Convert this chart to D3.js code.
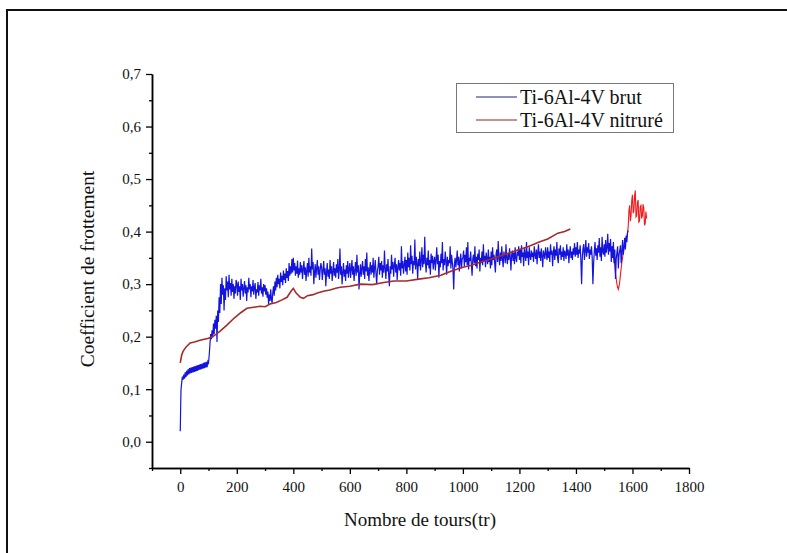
<!DOCTYPE html>
<html>
<head>
<meta charset="utf-8">
<script src="https://cdn.jsdelivr.net/npm/d3@7"></script>
<style>
  body { margin: 0; background: #fff; }
</style>
</head>
<body>
<div id="chart"></div>
<script>
const width = 787;
const height = 553;

// axis ticks
const xMajor = [0, 200, 400, 600, 800, 1000, 1200, 1400, 1600, 1800];
const xMinor = [-100, 100, 300, 500, 700, 900, 1100, 1300, 1500, 1700];
const yMajor = [0, 0.1, 0.2, 0.3, 0.4, 0.5, 0.6, 0.7];
const yMinor = [-0.05, 0.05, 0.15, 0.25, 0.35, 0.45, 0.55, 0.65];

// Ti-6Al-4V brut, one reading every 2.5 turns from 0 to 1585
const brutStep = 2.5;
const brutValues = [
  0.020, 0.098, 0.112, 0.124, 0.118, 0.128, 0.120, 0.132, 0.123, 0.135, 0.126, 0.138, 0.128, 0.140, 0.130, 0.141, 0.131, 0.142, 0.132, 0.143,
  0.133, 0.144, 0.134, 0.145, 0.135, 0.146, 0.136, 0.147, 0.137, 0.148, 0.138, 0.149, 0.139, 0.150, 0.140, 0.151, 0.141, 0.152, 0.142, 0.153,
  0.150, 0.165, 0.185, 0.205, 0.195, 0.212, 0.198, 0.225, 0.205, 0.232, 0.215, 0.240, 0.190, 0.250, 0.228, 0.275, 0.245, 0.300, 0.262, 0.312,
  0.280, 0.298, 0.250, 0.292, 0.270, 0.315, 0.288, 0.305, 0.275, 0.318, 0.290, 0.302, 0.278, 0.310, 0.285, 0.300, 0.272, 0.296, 0.282, 0.308,
  0.300, 0.278, 0.305, 0.285, 0.296, 0.270, 0.310, 0.288, 0.300, 0.276, 0.292, 0.306, 0.282, 0.298, 0.268, 0.294, 0.284, 0.312, 0.290, 0.300,
  0.275, 0.296, 0.286, 0.308, 0.280, 0.294, 0.302, 0.272, 0.290, 0.284, 0.304, 0.278, 0.298, 0.288, 0.310, 0.282, 0.294, 0.276, 0.300, 0.286,
  0.298, 0.280, 0.292, 0.274, 0.286, 0.262, 0.280, 0.268, 0.290, 0.272, 0.264, 0.285, 0.296, 0.278, 0.305, 0.288, 0.312, 0.294, 0.318, 0.300,
  0.310, 0.292, 0.322, 0.304, 0.316, 0.298, 0.326, 0.308, 0.320, 0.302, 0.330, 0.312, 0.325, 0.306, 0.340, 0.316, 0.334, 0.320, 0.348, 0.322,
  0.350, 0.326, 0.340, 0.316, 0.334, 0.320, 0.345, 0.312, 0.330, 0.318, 0.342, 0.322, 0.336, 0.310, 0.328, 0.344, 0.318, 0.332, 0.306, 0.326,
  0.340, 0.314, 0.350, 0.322, 0.334, 0.316, 0.368, 0.328, 0.342, 0.300, 0.322, 0.338, 0.312, 0.330, 0.346, 0.318, 0.334, 0.308, 0.326, 0.340,
  0.332, 0.308, 0.326, 0.344, 0.318, 0.330, 0.296, 0.322, 0.340, 0.314, 0.328, 0.310, 0.346, 0.320, 0.334, 0.306, 0.324, 0.342, 0.316, 0.330,
  0.312, 0.338, 0.322, 0.348, 0.310, 0.326, 0.368, 0.318, 0.334, 0.300, 0.322, 0.340, 0.314, 0.328, 0.306, 0.336, 0.320, 0.344, 0.312, 0.330,
  0.340, 0.312, 0.328, 0.346, 0.318, 0.334, 0.306, 0.326, 0.342, 0.316, 0.356, 0.322, 0.336, 0.290, 0.320, 0.338, 0.314, 0.330, 0.344, 0.318,
  0.334, 0.310, 0.348, 0.324, 0.360, 0.316, 0.332, 0.306, 0.328, 0.342, 0.318, 0.336, 0.322, 0.350, 0.312, 0.330, 0.346, 0.320, 0.300, 0.326,
  0.334, 0.352, 0.318, 0.340, 0.326, 0.344, 0.312, 0.336, 0.322, 0.364, 0.330, 0.310, 0.338, 0.324, 0.348, 0.316, 0.296, 0.334, 0.320, 0.356,
  0.328, 0.342, 0.314, 0.336, 0.350, 0.322, 0.338, 0.308, 0.332, 0.346, 0.326, 0.340, 0.316, 0.372, 0.330, 0.344, 0.320, 0.336, 0.352, 0.324,
  0.346, 0.318, 0.360, 0.332, 0.350, 0.326, 0.374, 0.338, 0.354, 0.320, 0.344, 0.336, 0.385, 0.328, 0.352, 0.340, 0.310, 0.348, 0.334, 0.362,
  0.326, 0.344, 0.370, 0.332, 0.356, 0.338, 0.390, 0.342, 0.322, 0.350, 0.336, 0.364, 0.330, 0.346, 0.318, 0.358, 0.340, 0.354, 0.328, 0.344,
  0.352, 0.326, 0.346, 0.370, 0.338, 0.356, 0.312, 0.344, 0.332, 0.358, 0.340, 0.380, 0.326, 0.348, 0.336, 0.362, 0.344, 0.318, 0.352, 0.334,
  0.346, 0.340, 0.372, 0.330, 0.356, 0.342, 0.328, 0.290, 0.338, 0.350, 0.332, 0.346, 0.364, 0.336, 0.352, 0.324, 0.344, 0.358, 0.330, 0.348,
  0.350, 0.364, 0.334, 0.356, 0.342, 0.370, 0.336, 0.380, 0.328, 0.350, 0.344, 0.362, 0.338, 0.316, 0.348, 0.356, 0.340, 0.372, 0.334, 0.352,
  0.330, 0.358, 0.346, 0.366, 0.324, 0.350, 0.340, 0.362, 0.336, 0.376, 0.344, 0.354, 0.332, 0.360, 0.348, 0.338, 0.366, 0.342, 0.352, 0.330,
  0.362, 0.336, 0.370, 0.346, 0.356, 0.340, 0.322, 0.358, 0.366, 0.342, 0.382, 0.350, 0.336, 0.360, 0.344, 0.372, 0.348, 0.332, 0.362, 0.354,
  0.340, 0.376, 0.350, 0.338, 0.358, 0.346, 0.368, 0.352, 0.326, 0.356, 0.364, 0.344, 0.360, 0.338, 0.370, 0.350, 0.342, 0.362, 0.354, 0.372,
  0.346, 0.366, 0.340, 0.374, 0.352, 0.360, 0.334, 0.368, 0.356, 0.344, 0.380, 0.350, 0.362, 0.336, 0.370, 0.354, 0.346, 0.364, 0.352, 0.360,
  0.342, 0.372, 0.356, 0.348, 0.366, 0.338, 0.360, 0.376, 0.350, 0.362, 0.344, 0.368, 0.354, 0.332, 0.364, 0.356, 0.348, 0.370, 0.358, 0.346,
  0.370, 0.350, 0.362, 0.342, 0.376, 0.356, 0.364, 0.334, 0.360, 0.372, 0.346, 0.366, 0.354, 0.380, 0.350, 0.340, 0.368, 0.356, 0.374, 0.346,
  0.362, 0.352, 0.370, 0.344, 0.364, 0.358, 0.348, 0.376, 0.354, 0.366, 0.340, 0.360, 0.372, 0.350, 0.362, 0.346, 0.368, 0.356, 0.378, 0.352,
  0.370, 0.356, 0.380, 0.350, 0.366, 0.358, 0.374, 0.345, 0.300, 0.352, 0.368, 0.376, 0.346, 0.364, 0.384, 0.352, 0.370, 0.360, 0.378, 0.348,
  0.366, 0.356, 0.372, 0.350, 0.300, 0.340, 0.362, 0.380, 0.354, 0.368, 0.346, 0.374, 0.360, 0.388, 0.352, 0.370, 0.344, 0.390, 0.362, 0.356,
  0.376, 0.352, 0.384, 0.360, 0.370, 0.396, 0.356, 0.378, 0.362, 0.386, 0.342, 0.372, 0.350, 0.380, 0.340, 0.366, 0.310, 0.348, 0.360, 0.372,
  0.330, 0.356, 0.364, 0.374, 0.340, 0.362, 0.384, 0.356, 0.370, 0.388, 0.366, 0.392, 0.380, 0.398, 0.402
];

// end of the brut run, drawn in red under the blue trace (1530 to 1650, every 2.5 turns)
const brutEndStart = 1530;
const brutEndValues = [
  0.360, 0.352, 0.345, 0.335, 0.320, 0.310, 0.300, 0.294, 0.290, 0.296, 0.305, 0.318, 0.330, 0.342, 0.350, 0.362, 0.370,
  0.375, 0.380, 0.385, 0.390, 0.398, 0.410, 0.440, 0.450, 0.420, 0.430, 0.460, 0.470, 0.435, 0.440, 0.468, 0.478,
  0.428, 0.430, 0.455, 0.460, 0.418, 0.420, 0.448, 0.450, 0.425, 0.430, 0.452, 0.445, 0.412, 0.415, 0.438, 0.425
];

// Ti-6Al-4V nitruré
const nitrX = [0, 5, 10, 20, 35, 50, 70, 100, 120, 140, 165, 190, 215, 236, 260, 282, 300, 318, 340, 360, 378, 390, 400, 410, 425, 436, 450, 470, 485, 510, 530, 550, 566, 600, 637, 680, 720, 756, 800, 850, 880, 922, 960, 1000, 1030, 1064, 1100, 1150, 1200, 1230, 1270, 1300, 1336, 1360, 1380];
const nitrValues = [0.150, 0.165, 0.172, 0.180, 0.188, 0.190, 0.193, 0.197, 0.202, 0.210, 0.222, 0.235, 0.246, 0.254, 0.256, 0.258, 0.257, 0.262, 0.265, 0.270, 0.275, 0.285, 0.292, 0.283, 0.275, 0.273, 0.278, 0.280, 0.283, 0.287, 0.289, 0.292, 0.294, 0.296, 0.300, 0.299, 0.303, 0.306, 0.306, 0.310, 0.312, 0.317, 0.325, 0.332, 0.336, 0.342, 0.348, 0.357, 0.366, 0.371, 0.380, 0.386, 0.397, 0.400, 0.405];

const legendNames = ['Ti-6Al-4V brut', 'Ti-6Al-4V nitruré'];
const legendColors = ['#23237e', '#8e2222'];

const fontStyle = "font-family: 'Liberation Serif', 'Times New Roman', Times, serif";

const svg = d3.select('#chart')
  .append('svg')
  .attr('width', width)
  .attr('height', height);

svg.append('rect')
  .attr('width', width)
  .attr('height', height)
  .attr('fill', '#fff');

// page frame, cut off at right and bottom
svg.append('rect')
  .attr('x', 7)
  .attr('y', 10)
  .attr('width', 820)
  .attr('height', 600)
  .attr('fill', 'none')
  .attr('stroke', '#111')
  .attr('stroke-width', 2);

const x = d3.scaleLinear().domain([-100, 1800]).range([152, 689]);
const y = d3.scaleLinear().domain([-0.05, 0.7]).range([468, 74]);

const fmt = v => d3.format('.1f')(v).replace('.', ',');

// axes
svg.append('g')
  .attr('transform', `translate(0,${y(-0.05)})`)
  .call(d3.axisBottom(x).tickValues(xMajor).tickSize(6).tickSizeOuter(0).tickPadding(7).tickFormat(d3.format('d')));
svg.append('g')
  .attr('transform', `translate(0,${y(-0.05)})`)
  .call(d3.axisBottom(x).tickValues(xMinor).tickSize(3).tickSizeOuter(0).tickFormat(''));

svg.append('g')
  .attr('transform', `translate(${x(-100)},0)`)
  .call(d3.axisLeft(y).tickValues(yMajor).tickSize(6).tickSizeOuter(0).tickPadding(5).tickFormat(fmt));
svg.append('g')
  .attr('transform', `translate(${x(-100)},0)`)
  .call(d3.axisLeft(y).tickValues(yMinor).tickSize(3).tickSizeOuter(0).tickFormat(''));

svg.selectAll('.domain').attr('stroke', '#000').attr('stroke-width', 1.5);
svg.selectAll('.tick line').attr('stroke', '#000').attr('stroke-width', 1.3);
svg.selectAll('.tick text')
  .attr('style', fontStyle)
  .attr('font-size', 15)
  .attr('fill', '#111');

// axis titles
svg.append('text')
  .attr('style', fontStyle)
  .attr('x', 420)
  .attr('y', 526)
  .attr('text-anchor', 'middle')
  .attr('font-size', 19)
  .attr('fill', '#111')
  .text('Nombre de tours(tr)');

svg.append('text')
  .attr('style', fontStyle)
  .attr('transform', `translate(94,${(y(-0.05) + y(0.7)) / 2 - 2}) rotate(-90)`)
  .attr('text-anchor', 'middle')
  .attr('font-size', 19.5)
  .attr('fill', '#111')
  .text('Coefficient de frottement');

// lines
const line = d3.line()
  .x(d => x(d[0]))
  .y(d => y(d[1]));

const brutData = brutValues.map((v, i) => [i * brutStep, v]);
const brutEndData = brutEndValues.map((v, i) => [brutEndStart + i * brutStep, v]);
const nitrData = nitrX.map((v, i) => [v, nitrValues[i]]);

svg.append('path')
  .datum(brutEndData)
  .attr('d', line)
  .attr('fill', 'none')
  .attr('stroke', '#ee1c1c')
  .attr('stroke-width', 1.1);

svg.append('path')
  .datum(brutData)
  .attr('d', line)
  .attr('fill', 'none')
  .attr('stroke', '#1414dc')
  .attr('stroke-width', 1.2);

svg.append('path')
  .datum(nitrData)
  .attr('d', line)
  .attr('fill', 'none')
  .attr('stroke', '#a52a2a')
  .attr('stroke-width', 1.6);

// legend
const legend = svg.append('g');
legend.append('rect')
  .attr('x', 456.5)
  .attr('y', 83.5)
  .attr('width', 217)
  .attr('height', 49)
  .attr('fill', '#fff')
  .attr('stroke', '#777')
  .attr('stroke-width', 1);

legendNames.forEach((name, i) => {
  const ly = 97 + i * 23;
  legend.append('line')
    .attr('x1', 476).attr('x2', 517)
    .attr('y1', ly).attr('y2', ly)
    .attr('stroke', legendColors[i])
    .attr('stroke-width', 1);
  legend.append('text')
    .attr('style', fontStyle)
    .attr('x', 520)
    .attr('y', ly + 7)
    .attr('font-size', 20)
    .attr('fill', '#111')
    .text(name);
});
</script>
</body>
</html>
